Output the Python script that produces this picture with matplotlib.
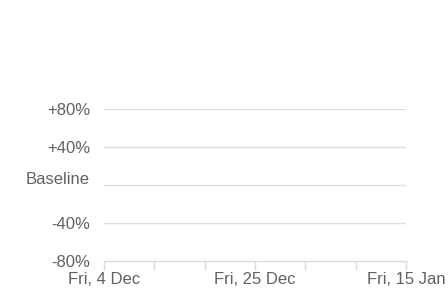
import datetime as dt
import matplotlib
matplotlib.use('Agg')
import matplotlib.pyplot as plt
import matplotlib.dates as mdates
import matplotlib.transforms as mtransforms

# x range (weekly ticks, every third one labelled)
start = dt.date(2020, 12, 4)
end = dt.date(2021, 1, 15)
week_ticks = [dt.date(2020, 12, 4), dt.date(2020, 12, 11), dt.date(2020, 12, 18),
              dt.date(2020, 12, 25), dt.date(2021, 1, 1), dt.date(2021, 1, 8),
              dt.date(2021, 1, 15)]
label_ticks = [dt.date(2020, 12, 4), dt.date(2020, 12, 25), dt.date(2021, 1, 15)]
x_labels = ['Fri, 4 Dec', 'Fri, 25 Dec', 'Fri, 15 Jan']

y_ticks = [-80, -40, 0, 40, 80]
y_labels = ['-80%', '-40%', 'Baseline', '+40%', '+80%']

grid_col = '#dadce0'
text_col = '#616161'

plt.rcParams['font.family'] = ['Liberation Sans', 'DejaVu Sans']

fig = plt.figure(figsize=(4.48, 2.89), dpi=100)
ax = fig.add_axes([104 / 448, 1 - 261 / 289, 302 / 448, 152 / 289])

ax.set_xlim(mdates.date2num(start), mdates.date2num(end))
ax.set_ylim(y_ticks[0], y_ticks[-1])

ax.set_yticks(y_ticks)
ax.set_yticklabels(y_labels)
ax.set_xticks([mdates.date2num(d) for d in label_ticks])
ax.set_xticklabels(x_labels)
ax.set_xticks([mdates.date2num(d) for d in week_ticks], minor=True)

for y in y_ticks[1:]:
    ax.axhline(y, color=grid_col, lw=1, zorder=0)

for s in ['top', 'right', 'left']:
    ax.spines[s].set_visible(False)
ax.spines['bottom'].set_color(grid_col)
ax.spines['bottom'].set_linewidth(1)

ax.tick_params(axis='y', length=0, pad=10, labelsize=12, labelcolor=text_col)
ax.tick_params(axis='x', which='both', length=6.5, width=1, color=grid_col,
               pad=1.5, labelsize=12, labelcolor=text_col)

# the "Baseline" label sits a little above its line
for lbl in ax.get_yticklabels():
    if lbl.get_text() == 'Baseline':
        lbl.set_transform(lbl.get_transform() +
                          mtransforms.ScaledTranslation(0, 7 / 100, fig.dpi_scale_trans))

fig.savefig('out.png', dpi=100)
